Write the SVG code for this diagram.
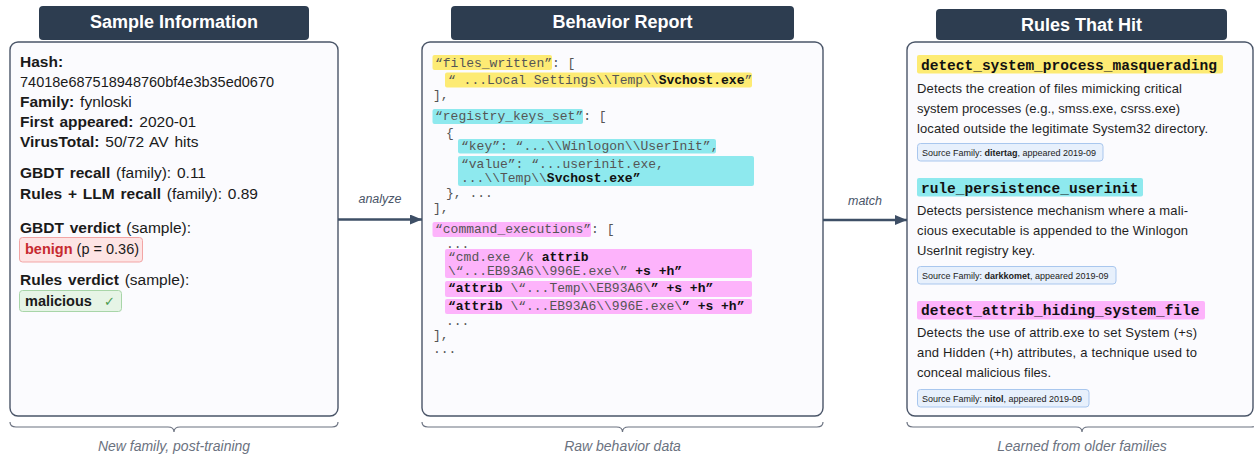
<svg xmlns="http://www.w3.org/2000/svg" width="1254" height="458" viewBox="0 0 1254 458">
<defs>
<style>
.hdr{fill:#2d3d50}
.hdrt{font-family:"Liberation Sans",Arial,sans-serif;font-size:18px;font-weight:bold;fill:#fff;text-anchor:middle}
.panel{fill:#fbfbfe;stroke:#4a5568;stroke-width:1.4}
.s{font-family:"Liberation Sans",Arial,sans-serif;font-size:15.5px;fill:#1a1a1a;word-spacing:1.5px}
.b{font-weight:bold}
.h{font-family:"Liberation Sans",Arial,sans-serif;font-size:14.5px;fill:#1a1a1a}
.m{font-family:"Liberation Mono","Courier New",monospace;font-size:13px;fill:#555}
.mb{font-weight:bold;fill:#111}
.rn{font-family:"Liberation Mono","Courier New",monospace;font-size:14.5px;font-weight:bold;fill:#111}
.d{font-family:"Liberation Sans",Arial,sans-serif;font-size:13px;fill:#1f1f1f}
.src{fill:#e7f0fc;stroke:#a9c7ee;stroke-width:1}
.srct{font-family:"Liberation Sans",Arial,sans-serif;font-size:9px;fill:#222}
.y{fill:#fdeb74}
.c{fill:#8ee9ee}
.p{fill:#fdb3fb}
.brace{fill:none;stroke:#6b7280;stroke-width:1.2}
.cap{font-family:"Liberation Sans",Arial,sans-serif;font-size:14px;font-style:italic;fill:#6b7280;text-anchor:middle}
.conn{stroke:#3e4f66;stroke-width:2.5;fill:none}
.cl{font-family:"Liberation Sans",Arial,sans-serif;font-size:12.5px;font-style:italic;fill:#4a5568;text-anchor:middle}
</style>
<marker id="ah" markerWidth="12" markerHeight="10" refX="12" refY="5" orient="auto" markerUnits="userSpaceOnUse">
<path d="M0,0 L12,5 L0,10 Z" fill="#3e4f66"/>
</marker>
</defs>

<g id="sample-info">
<rect class="panel" x="10" y="42" width="328" height="374" rx="8"/>
<rect class="hdr" x="39" y="6" width="270" height="34" rx="4"/>
<text class="hdrt" x="174" y="28">Sample Information</text>
<text class="s b" x="20" y="67">Hash:</text>
<text class="h" x="20" y="87">74018e687518948760bf4e3b35ed0670</text>
<text class="s" x="20" y="107"><tspan class="b">Family:</tspan> fynloski</text>
<text class="s" x="20" y="127"><tspan class="b">First appeared:</tspan> 2020-01</text>
<text class="s" x="20" y="147"><tspan class="b">VirusTotal:</tspan> 50/72 AV hits</text>
<text class="s" x="20" y="178"><tspan class="b">GBDT recall</tspan> (family): 0.11</text>
<text class="s" x="20" y="199"><tspan class="b">Rules + LLM recall</tspan> (family): 0.89</text>
<text class="s" x="20" y="233"><tspan class="b">GBDT verdict</tspan> (sample):</text>
<rect x="19.5" y="237.5" width="123" height="24.5" rx="3" fill="#fde4e4" stroke="#f2a5a5"/>
<text class="h" x="25" y="254"><tspan class="b" fill="#c62a2f">benign</tspan> (p = 0.36)</text>
<text class="s" x="20" y="285"><tspan class="b">Rules verdict</tspan> (sample):</text>
<rect x="19.5" y="290.5" width="102" height="21" rx="3" fill="#e6f4e6" stroke="#a8d5a8"/>
<text class="h" x="25" y="306" fill="#2e7d32"><tspan class="b">malicious</tspan><tspan x="104" font-size="13" fill="#4c9a50">✓</tspan></text>
</g>

<g id="behavior-report">
<rect class="panel" x="422" y="42" width="401" height="374" rx="8"/>
<rect class="hdr" x="451" y="6" width="343" height="34" rx="4"/>
<text class="hdrt" x="622.5" y="28">Behavior Report</text>
<rect class="y" x="432.5" y="55" width="119.5" height="15" rx="2"/>
<rect class="y" x="445" y="72.5" width="307" height="15" rx="2"/>
<rect class="c" x="432.5" y="109" width="150.5" height="15" rx="2"/>
<rect class="c" x="458" y="139" width="258" height="14.5" rx="2"/>
<rect class="c" x="458" y="156" width="296" height="30" rx="2"/>
<rect class="p" x="432.5" y="222" width="158.5" height="15" rx="2"/>
<rect class="p" x="445" y="249" width="307" height="29" rx="2"/>
<rect class="p" x="445" y="281" width="307" height="16" rx="2"/>
<rect class="p" x="445" y="299" width="307" height="15" rx="2"/>
<text class="m" x="435" y="67">“files_written”: [</text>
<text class="m" x="448" y="84">“ ...Local Settings\\Temp\\<tspan class="mb">Svchost.exe</tspan>”</text>
<text class="m" x="433" y="99">],</text>
<text class="m" x="435" y="120">“registry_keys_set”: [</text>
<text class="m" x="446" y="137">{</text>
<text class="m" x="461" y="150">“key”:  “...\\Winlogon\\UserInit”,</text>
<text class="m" x="461" y="168">“value”:  “...userinit.exe,</text>
<text class="m" x="461" y="182">...\\Temp\\<tspan class="mb">Svchost.exe”</tspan></text>
<text class="m" x="446" y="197">}, ...</text>
<text class="m" x="433" y="212">],</text>
<text class="m" x="435" y="233">“command_executions”: [</text>
<text class="m" x="446" y="248">...</text>
<text class="m" x="448" y="261">“cmd.exe /k <tspan class="mb">attrib</tspan></text>
<text class="m" x="448" y="275">\“...EB93A6\\996E.exe\” <tspan class="mb">+s +h”</tspan></text>
<text class="m" x="448" y="292"><tspan class="mb">“attrib</tspan> \“...Temp\\EB93A6\<tspan class="mb">” +s +h”</tspan></text>
<text class="m" x="448" y="310"><tspan class="mb">“attrib</tspan> \“...EB93A6\\996E.exe\<tspan class="mb">” +s +h”</tspan></text>
<text class="m" x="446" y="325">...</text>
<text class="m" x="433" y="339">],</text>
<text class="m" x="433" y="353">...</text>
</g>

<g id="rules-hit">
<rect class="panel" x="907" y="42" width="346" height="374" rx="8"/>
<rect class="hdr" x="936" y="9" width="291" height="31" rx="4"/>
<text class="hdrt" x="1081.5" y="31">Rules That Hit</text>

<rect class="y" x="917" y="55" width="306" height="18.5" rx="2"/>
<text class="rn" x="921" y="70">detect_system_process_masquerading</text>
<text class="d" x="917" y="92.5" textLength="265" lengthAdjust="spacing">Detects the creation of files mimicking critical</text>
<text class="d" x="917" y="112.5" textLength="263" lengthAdjust="spacing">system processes (e.g., smss.exe, csrss.exe)</text>
<text class="d" x="917" y="132.5" textLength="291" lengthAdjust="spacing">located outside the legitimate System32 directory.</text>
<rect class="src" x="917.5" y="143.5" width="185.5" height="17.5" rx="3"/>
<text class="srct" x="922" y="155.5">Source Family: <tspan font-weight="bold">ditertag</tspan>, appeared 2019-09</text>

<rect class="c" x="917" y="178" width="226" height="18.5" rx="2"/>
<text class="rn" x="921" y="192.5">rule_persistence_userinit</text>
<text class="d" x="917" y="215" textLength="271" lengthAdjust="spacing">Detects persistence mechanism where a mali-</text>
<text class="d" x="917" y="235" textLength="271" lengthAdjust="spacing">cious executable is appended to the Winlogon</text>
<text class="d" x="917" y="255" textLength="118" lengthAdjust="spacing">UserInit registry key.</text>
<rect class="src" x="917.5" y="266.5" width="198.5" height="17.5" rx="3"/>
<text class="srct" x="922" y="278.5">Source Family: <tspan font-weight="bold">darkkomet</tspan>, appeared 2019-09</text>

<rect class="p" x="917" y="301" width="288" height="18.5" rx="2"/>
<text class="rn" x="921" y="315">detect_attrib_hiding_system_file</text>
<text class="d" x="917" y="337" textLength="280" lengthAdjust="spacing">Detects the use of attrib.exe to set System (+s)</text>
<text class="d" x="917" y="357" textLength="280" lengthAdjust="spacing">and Hidden (+h) attributes, a technique used to</text>
<text class="d" x="917" y="377" textLength="134" lengthAdjust="spacing">conceal malicious files.</text>
<rect class="src" x="917.5" y="389.5" width="171.5" height="17.5" rx="3"/>
<text class="srct" x="922" y="401.5">Source Family: <tspan font-weight="bold">nitol</tspan>, appeared 2019-09</text>
</g>

<g id="connectors">
<line class="conn" x1="338" y1="219.5" x2="422" y2="219.5" marker-end="url(#ah)"/>
<text class="cl" x="380" y="203">analyze</text>
<line class="conn" x1="823" y1="220" x2="907" y2="220" marker-end="url(#ah)"/>
<text class="cl" x="865" y="205">match</text>
</g>

<g id="annotations">
<path class="brace" d="M10,422 Q10,427 16,427 L168,427 Q174,427 174,432 Q174,427 180,427 L332,427 Q338,427 338,422"/>
<text class="cap" x="174" y="451">New family, post-training</text>
<path class="brace" d="M422,422 Q422,427 428,427 L616.5,427 Q622.5,427 622.5,432 Q622.5,427 628.5,427 L817,427 Q823,427 823,422"/>
<text class="cap" x="622.5" y="451">Raw behavior data</text>
<path class="brace" d="M907,422 Q907,427 913,427 L1076,427 Q1082,427 1082,432 Q1082,427 1088,427 L1251,427 Q1257,427 1257,422"/>
<text class="cap" x="1082" y="451">Learned from older families</text>
</g>
</svg>
